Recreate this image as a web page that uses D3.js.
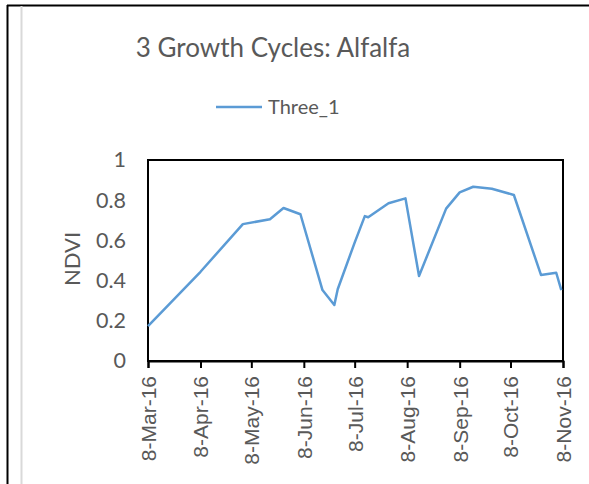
<!DOCTYPE html>
<html>
<head>
<meta charset="utf-8">
<script src="https://cdn.jsdelivr.net/npm/d3@7"></script>
<style>
  body { margin: 0; background: #fff; }
  text { font-family: Lato, "Open Sans", sans-serif; fill: #595959; }
</style>
</head>
<body>
<script>
// series data
const dates = ["2016-03-08", "2016-04-08", "2016-05-03", "2016-05-19", "2016-05-27", "2016-06-06",
  "2016-06-19", "2016-06-26", "2016-06-28", "2016-07-08", "2016-07-14", "2016-07-16",
  "2016-07-28", "2016-08-07", "2016-08-15", "2016-08-31", "2016-09-08", "2016-09-16",
  "2016-09-27", "2016-10-10", "2016-10-26", "2016-11-04", "2016-11-07"];
const ndvi = [0.174, 0.444, 0.681, 0.705, 0.761, 0.730,
  0.353, 0.279, 0.357, 0.589, 0.721, 0.715,
  0.785, 0.809, 0.423, 0.758, 0.839, 0.867,
  0.857, 0.826, 0.428, 0.439, 0.353];
const xTicks = ["2016-03-08", "2016-04-08", "2016-05-08", "2016-06-08", "2016-07-08",
  "2016-08-08", "2016-09-08", "2016-10-08", "2016-11-08"];
const yTicks = [0, 0.2, 0.4, 0.6, 0.8, 1];
const seriesName = "Three_1";
const title = "3 Growth Cycles: Alfalfa";

const width = 589, height = 484;
const margin = {left: 148, right: 26, top: 160, bottom: 123};
const parse = d3.timeParse("%Y-%m-%d");
const data = dates.map((d, i) => ({date: parse(d), value: ndvi[i]}));

const svg = d3.select("body").append("svg")
    .attr("width", width)
    .attr("height", height);

// frame lines around the chart object
svg.append("line").attr("x1", 7).attr("x2", width).attr("y1", 5.5).attr("y2", 5.5)
    .attr("stroke", "#000").attr("stroke-width", 2);
svg.append("line").attr("x1", 7.5).attr("x2", 7.5).attr("y1", 5).attr("y2", height)
    .attr("stroke", "#000").attr("stroke-width", 2);
svg.append("line").attr("x1", 21.5).attr("x2", 21.5).attr("y1", 6).attr("y2", height)
    .attr("stroke", "#d9d9d9").attr("stroke-width", 2);

const x = d3.scaleTime()
    .domain([parse(xTicks[0]), parse(xTicks[xTicks.length - 1])])
    .range([margin.left, width - margin.right]);
const y = d3.scaleLinear()
    .domain([0, 1])
    .range([height - margin.bottom, margin.top]);

// title
svg.append("text")
    .attr("x", 273).attr("y", 57)
    .attr("text-anchor", "middle")
    .style("font-size", "26px")
    .text(title);

// legend
svg.append("line")
    .attr("x1", 216).attr("x2", 262).attr("y1", 107).attr("y2", 107)
    .attr("stroke", "#5b9bd5").attr("stroke-width", 2.5);
svg.append("text")
    .attr("x", 268).attr("y", 114)
    .style("font-size", "20px")
    .text(seriesName);

// plot box
svg.append("rect")
    .attr("x", x.range()[0]).attr("y", y(1))
    .attr("width", x.range()[1] - x.range()[0])
    .attr("height", y(0) - y(1))
    .attr("fill", "none").attr("stroke", "#000").attr("stroke-width", 2);

// y axis
const yAxis = svg.append("g")
    .attr("transform", "translate(" + margin.left + ",0)")
    .call(d3.axisLeft(y).tickValues(yTicks).tickSize(0).tickPadding(22)
      .tickFormat(d3.format("~g")));
yAxis.select(".domain").remove();
yAxis.selectAll("text")
    .style("font-size", "21.5px")
    .style("font-family", "Lato, sans-serif")
    .attr("fill", "#595959");

svg.append("text")
    .attr("transform", "translate(80,259) rotate(-90)")
    .attr("text-anchor", "middle")
    .style("font-size", "22px")
    .text("NDVI");

// x axis
const fmt = d3.timeFormat("%-d-%b-%y");
const xAxis = svg.append("g")
    .attr("transform", "translate(0," + y(0) + ")")
    .call(d3.axisBottom(x).tickValues(xTicks.map(parse)).tickSize(7).tickFormat(fmt));
xAxis.select(".domain").attr("stroke-width", 2);
xAxis.selectAll(".tick line").attr("stroke-width", 2);
xAxis.selectAll("text")
    .style("font-size", "21px")
    .style("font-family", "'Liberation Sans', Arial, sans-serif")
    .attr("fill", "#595959")
    .attr("text-anchor", "end")
    .attr("dy", "0.35em")
    .attr("transform", "translate(0,6) rotate(-90)")
    .attr("x", -9).attr("y", 0);

// line
svg.append("path")
    .datum(data)
    .attr("fill", "none")
    .attr("stroke", "#5b9bd5")
    .attr("stroke-width", 2.5)
    .attr("stroke-linejoin", "round")
    .attr("d", d3.line().x(d => x(d.date)).y(d => y(d.value)));
</script>
</body>
</html>
